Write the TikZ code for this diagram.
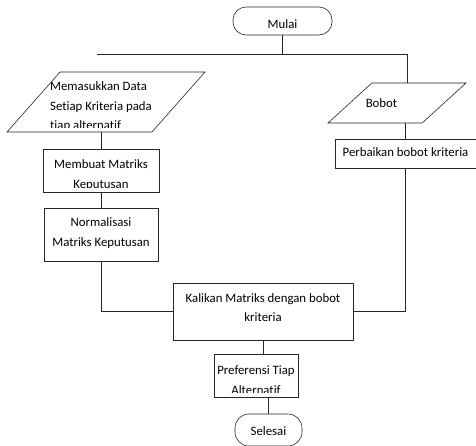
\documentclass[tikz,border=0pt]{standalone}
\usepackage{fontspec}
\setmainfont{Carlito}[Ligatures=NoCommon]
\usetikzlibrary{shapes.geometric}

\tikzset{
  garis/.style={line width=0.6pt, draw=black!85},
  terminal/.style={garis, rectangle, rounded corners=13pt, inner sep=0pt},
  proses/.style={garis, rectangle, inner sep=0pt},
  masukan/.style={garis, trapezium, trapezium stretches=true, inner sep=1pt},
  % teks di dalam kotak, terpotong dekat tepi bawah (yshift = garis dasar baris terakhir)
  isi/.style n args={3}{path picture={
    \clip ([yshift=5pt]path picture bounding box.south west) rectangle (path picture bounding box.north east);
    \node[anchor=base, align=center, inner sep=0pt] at ([xshift=#1, yshift=#2]path picture bounding box.north) {#3};}},
  isikiri/.style n args={3}{path picture={
    \clip ([yshift=5pt]path picture bounding box.south west) rectangle (path picture bounding box.north east);
    \node[anchor=base, align=left, inner sep=0pt] at ([xshift=#1, yshift=#2]path picture bounding box.north) {#3};}},
}

\begin{document}
\begin{tikzpicture}[x=1pt, y=-1pt, font=\fontsize{12.8}{19.5}\selectfont]
  \useasboundingbox (0,0) rectangle (476,445);

  % Mulai dan Selesai
  \node[terminal, minimum width=99pt, minimum height=28pt, isi={0pt}{-21pt}{Mulai}] (mulai) at (282.5,21) {};
  \node[terminal, minimum width=67pt, minimum height=32pt, rounded corners=14pt, isi={0pt}{-21pt}{Selesai}] (selesai) at (268.5,430) {};

  % Input
  \node[masukan, trapezium left angle=60, trapezium right angle=120, minimum width=198pt, minimum height=60pt,
        isikiri={-5pt}{-57.5pt}{Memasukkan Data\\Setiap Kriteria pada\\tiap alternatif}] (data) at (106,102) {};
  \node[masukan, trapezium left angle=49, trapezium right angle=131, minimum width=138pt, minimum height=40pt,
        isi={-15.5pt}{-24pt}{Bobot}] (bobot) at (397,103) {};

  % Proses
  \node[proses, minimum width=116pt, minimum height=43pt, isi={0pt}{-39pt}{Membuat Matriks\\Keputusan}] (membuat) at (101,170.5) {};
  \node[proses, minimum width=114pt, minimum height=53pt, isi={0pt}{-38pt}{Normalisasi\\Matriks Keputusan}] (normalisasi) at (101,234.5) {};
  \node[proses, minimum width=141pt, minimum height=29pt, isi={0pt}{-17pt}{Perbaikan bobot kriteria}] (perbaikan) at (405.5,153.5) {};
  \node[proses, minimum width=180pt, minimum height=57pt, isi={0pt}{-38.5pt}{Kalikan Matriks dengan bobot\\kriteria}] (kalikan) at (263,311.5) {};
  \node[proses, minimum width=84pt, minimum height=43pt, isi={0pt}{-40pt}{Preferensi Tiap\\Alternatif}] (preferensi) at (256,375.5) {};

  % Garis
  \coordinate (kiri) at (97,54);
  \coordinate (kanan) at (407,54);
  \draw[garis] (mulai.south) -- (mulai.south |- kiri);
  \draw[garis] (kiri) -- (kanan) -- (kanan |- bobot.north);
  \draw[garis] (membuat.north |- data.south) -- (membuat.north);
  \draw[garis] (membuat.south) -- (normalisasi.north);
  \draw[garis] (normalisasi.south) -- (normalisasi.south |- kalikan.west) -- (kalikan.west);
  \draw[garis] (perbaikan.north |- bobot.south) -- (perbaikan.north);
  \draw[garis] (perbaikan.south) -- (perbaikan.south |- kalikan.east) -- (kalikan.east);
  \draw[garis] (kalikan.south) -- (kalikan.south |- preferensi.north);
  \draw[garis] (selesai.north |- preferensi.south) -- (selesai.north);
\end{tikzpicture}
\end{document}
